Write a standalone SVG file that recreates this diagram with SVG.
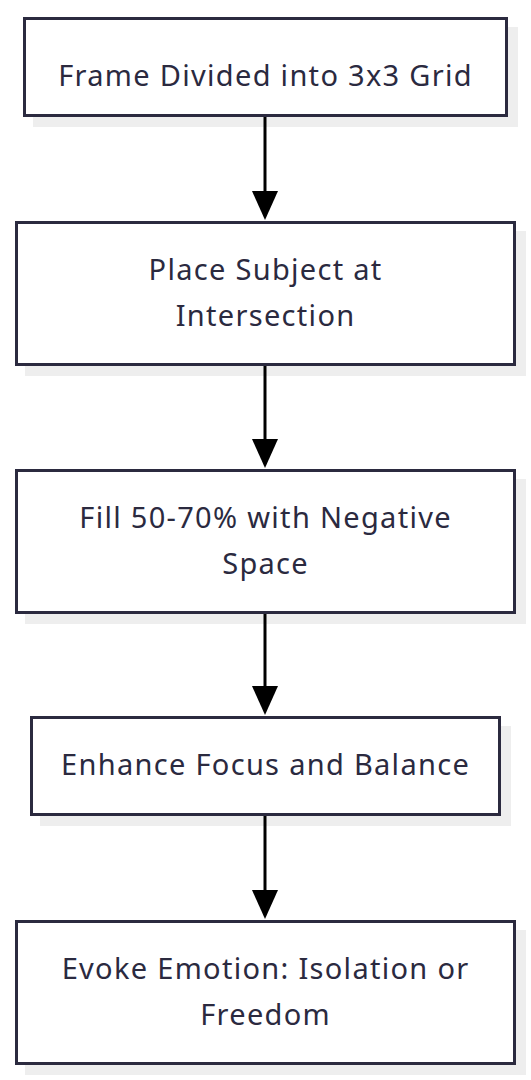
<svg xmlns="http://www.w3.org/2000/svg" width="531" height="1080" viewBox="0 0 531 1080">
<defs>
<style>
.shadow{fill:#eeeeee;}
.box{fill:#ffffff;stroke:#2b2a3f;stroke-width:3;}
.label{font-family:"Noto Sans","Open Sans",sans-serif;font-size:29px;letter-spacing:1.3px;fill:#2b2a3f;text-anchor:middle;}
.edge{stroke:#000000;stroke-width:3;fill:none;}
.head{fill:#000000;}
</style>
</defs>
<rect width="531" height="1080" fill="#ffffff"/>
<g id="node1">
<rect class="shadow" x="33" y="27" width="485" height="100"/>
<rect class="box" x="24.5" y="18.5" width="482" height="97"/>
<text class="label" x="265.6" y="86">Frame Divided into 3x3 Grid</text>
</g>
<g id="node2">
<rect class="shadow" x="25" y="231" width="501" height="145"/>
<rect class="box" x="16.5" y="222.5" width="498" height="142"/>
<text class="label" x="265.6" y="280">Place Subject at</text>
<text class="label" x="265.6" y="326">Intersection</text>
</g>
<g id="node3">
<rect class="shadow" x="25" y="479" width="501" height="145"/>
<rect class="box" x="16.5" y="470.5" width="498" height="142"/>
<text class="label" x="265.6" y="528">Fill 50-70% with Negative</text>
<text class="label" x="265.6" y="574">Space</text>
</g>
<g id="node4">
<rect class="shadow" x="40" y="726" width="471" height="100"/>
<rect class="box" x="31.5" y="717.5" width="468" height="97"/>
<text class="label" x="265.6" y="775">Enhance Focus and Balance</text>
</g>
<g id="node5">
<rect class="shadow" x="25" y="930" width="501" height="145"/>
<rect class="box" x="16.5" y="921.5" width="498" height="142"/>
<text class="label" x="265.6" y="979">Evoke Emotion: Isolation or</text>
<text class="label" x="265.6" y="1025">Freedom</text>
</g>
<g id="connectors">
<line class="edge" x1="265" y1="117" x2="265" y2="195"/>
<polygon class="head" points="252,191 278,191 265,220"/>
<line class="edge" x1="265" y1="366" x2="265" y2="443"/>
<polygon class="head" points="252,439 278,439 265,468"/>
<line class="edge" x1="265" y1="614" x2="265" y2="690"/>
<polygon class="head" points="252,686 278,686 265,715"/>
<line class="edge" x1="265" y1="816" x2="265" y2="894"/>
<polygon class="head" points="252,890 278,890 265,919"/>
</g>
</svg>
